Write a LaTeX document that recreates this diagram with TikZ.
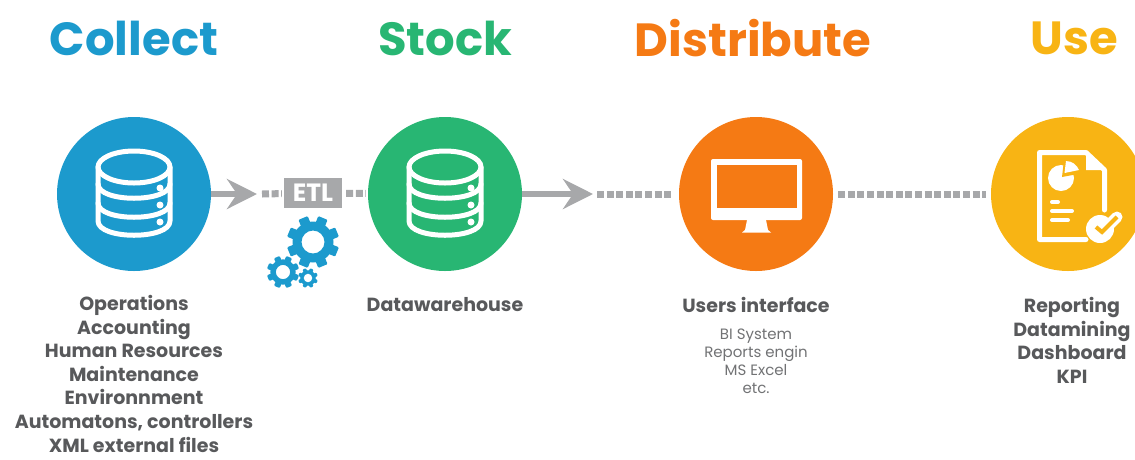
\documentclass[tikz,border=0pt]{standalone}
\usepackage{fontspec}
\setmainfont{Poppins}
\usetikzlibrary{arrows.meta}
\definecolor{collectblue}{HTML}{1C9ACD}
\definecolor{stockgreen}{HTML}{28B673}
\definecolor{distorange}{HTML}{F57A14}
\definecolor{useyellow}{HTML}{F8B414}
\definecolor{linegray}{HTML}{A7A8AA}
\definecolor{textgray}{HTML}{58595B}
\tikzset{
    heading/.style={font=\bfseries\fontsize{46.5}{50}\selectfont,inner sep=0pt},
    stepcircle/.style={circle,minimum size=154pt,inner sep=0pt},
    itemlist/.style={text=textgray,align=center,inner sep=0pt,anchor=north,font=\bfseries\fontsize{19}{23.6}\selectfont},
    sublist/.style={text=textgray!85,align=center,inner sep=0pt,anchor=north,font=\fontsize{15}{18}\selectfont},
    bigarrow/.style={draw=linegray,line width=6pt,-{Stealth[length=30pt,width=30pt,inset=10pt]}},
    dotline/.style={draw=linegray,line width=7pt,dash pattern=on 7pt off 2.6pt},
    iconline/.style={draw=white,line width=5pt,line join=round,line cap=round},
    dbicon/.pic={
        \draw[iconline] (0,-27) circle [x radius=36,y radius=16];
        \draw[iconline] (-36,-27) -- (-36,27) .. controls (-36,46) and (36,46) .. (36,27) -- (36,-27);
        \draw[iconline] (-36,-10) .. controls (-36,9) and (36,9) .. (36,-10);
        \draw[iconline] (-36,9) .. controls (-36,28) and (36,28) .. (36,9);
        \foreach \doty in {-6,11,28}
            \fill[white] (26,\doty) circle (3.5);
    },
    gearicon/.pic={
        \foreach \ang in {0,45,...,315}
            \fill[collectblue,rotate=\ang+22.5,rounded corners=1pt] (-5,-26) rectangle (5,-15);
        \fill[collectblue,even odd rule] (0,0) circle (20.5) (0,0) circle (11.5);
    }
}
\begin{document}
\begin{tikzpicture}[x=1pt,y=-1pt]
\useasboundingbox (0,0) rectangle (1135,459);
\node[heading,text=collectblue] (collecttitle) at (134,38) {Collect};
\node[heading,text=stockgreen] (stocktitle) at (445,38) {Stock};
\node[heading,text=distorange] (distributetitle) at (753,38) {Distribute};
\node[heading,text=useyellow] (usetitle) at (1074,38) {Use};
\node[stepcircle,fill=collectblue] (collect) at (134,194) {};
\node[stepcircle,fill=stockgreen] (stock) at (445,194) {};
\node[stepcircle,fill=distorange] (distribute) at (756,194) {};
\node[stepcircle,fill=useyellow] (use) at (1068,194) {};
\node[fill=linegray,text=white,minimum width=58pt,minimum height=30pt,inner sep=0pt,font=\bfseries\fontsize{25}{26}\selectfont] (etl) at (313,193) {ETL};
\coordinate (collecttip) at (257,194);
\coordinate (etlstart) at (262,194);
\coordinate (stocktip) at (593,194);
\coordinate (diststart) at (597,194);
\draw[bigarrow] (collect) -- (collecttip);
\draw[dotline,shorten >=2pt] (etlstart) -- (etl);
\draw[dotline,shorten <=4pt,shorten >=2pt] (etl) -- (stock);
\draw[bigarrow] (stock) -- (stocktip);
\draw[dotline,shorten >=5pt] (diststart) -- (distribute);
\draw[dotline,shorten <=5pt,shorten >=5pt] (distribute) -- (use);
\pic at (collect) {dbicon};
\pic at (stock) {dbicon};
\pic at (313,242) {gearicon};
\pic[scale=0.62] at (283,272) {gearicon};
\pic[scale=0.38] at (308,278) {gearicon};
\fill[white,rounded corners=2pt] (711,159) rectangle (802,220);
\fill[distorange] (716.5,165) rectangle (796.5,208);
\fill[white] (747,220) -- (766,220) -- (768,230) -- (771,232.5) -- (742,232.5) -- (745,230) -- cycle;
\draw[iconline] (1104.5,210) -- (1104.5,170) -- (1086,152.5) -- (1039.5,152.5) -- (1039.5,239.5) -- (1086,239.5);
\fill[white] (1086,152) -- (1105,170) -- (1086,170) -- cycle;
\fill[white] (1061,178) circle (13);
\fill[useyellow] (1062,177) -- (1064,160) -- (1085,160) -- (1078,174) -- cycle;
\fill[white] (1064.5,173) -- (1066,161) .. controls (1072,161) and (1077,165) .. (1079,170) -- cycle;
\draw[white,line width=4pt,line cap=round] (1052,202) -- (1058,202);
\draw[white,line width=4pt,line cap=round] (1052,211) -- (1072,211);
\draw[white,line width=4pt,line cap=round] (1052,220) -- (1068,220);
\fill[white] (1100,229) circle (14);
\draw[white,line width=11pt,line cap=round,line join=round] (1096,227) -- (1102,232) -- (1117,217);
\draw[useyellow,line width=4pt,line join=miter] (1096,227) -- (1102,232) -- (1117,217);
\node[itemlist] (collectitems) at (134,295) {Operations\\Accounting\\Human Resources\\Maintenance\\Environnment\\Automatons, controllers\\XML external files};
\node[itemlist] (stockitems) at (445,297) {Datawarehouse};
\node[itemlist] (distributeitems) at (756,297) {Users interface};
\node[sublist] (distributesub) at (756,329) {BI System\\Reports engin\\MS Excel\\etc.};
\node[itemlist] (useitems) at (1072,297) {Reporting\\Datamining\\Dashboard\\KPI};
\end{tikzpicture}
\end{document}
